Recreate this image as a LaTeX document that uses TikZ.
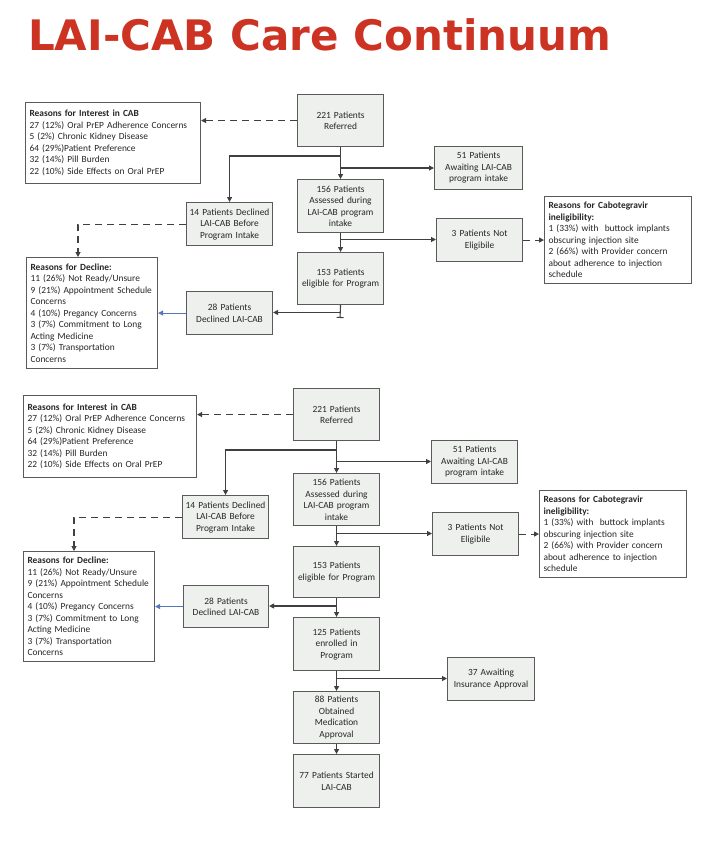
\documentclass[tikz,border=0pt]{standalone}
\usepackage{fontspec}
\setmainfont{Carlito}
\newfontfamily\titlefont{DejaVu Sans}
\usetikzlibrary{arrows.meta}
\definecolor{titlered}{HTML}{CC3322}
\definecolor{boxgray}{HTML}{EEF0EE}
\definecolor{bordergray}{HTML}{5A5A5A}
\definecolor{txtgray}{HTML}{262626}
\definecolor{linegray}{HTML}{404040}
\definecolor{bluearr}{HTML}{5577BB}
\tikzset{
  gbox/.style={draw=bordergray, fill=boxgray, line width=1.1pt, anchor=north west, align=center,
    font=\fontsize{9.4}{11.5}\selectfont, text=txtgray, inner sep=2pt},
  wbox/.style={draw=bordergray, fill=white, line width=1.1pt, anchor=north west, align=left,
    font=\fontsize{9.4}{11.5}\selectfont, text=txtgray, inner xsep=4pt, inner ysep=2pt},
  conn/.style={draw=linegray, line width=1.1pt},
  arr/.style={conn, -{Triangle[length=5pt,width=5pt]}},
  dasharr/.style={conn, dash pattern=on 7pt off 5pt, -{Triangle[length=5pt,width=5pt]}},
  bluearrow/.style={draw=bluearr, line width=1.1pt, -{Triangle[length=5pt,width=5pt]}},
  teeline/.style={conn, -{Bar[width=7pt]}},
}
\begin{document}
\begin{tikzpicture}[x=1pt,y=-1pt]
\useasboundingbox (0,0) rectangle (703,844);
\fill[white] (0,0) rectangle (703,844);
\node[anchor=base west, inner sep=0, text=titlered, font=\titlefont\bfseries\fontsize{42}{42}\selectfont] (title) at (28,50) {LAI-CAB Care Continuum};

% ---------------- top diagram ----------------
\node[wbox, minimum width=175pt, minimum height=81pt, text width=167pt] (int1) at (25,102)
 {\textbf{Reasons for Interest in CAB}\\27 (12\%) Oral PrEP Adherence Concerns\\5 (2\%) Chronic Kidney Disease\\64 (29\%)Patient Preference\\32 (14\%) Pill Burden\\22 (10\%) Side Effects on Oral PrEP};
\node[gbox, minimum width=86pt, minimum height=52pt, text width=82pt] (ref1) at (297,94) {221 Patients\\Referred};
\node[gbox, minimum width=88pt, minimum height=43pt, text width=84pt] (aw1) at (434,146) {51 Patients\\Awaiting LAI-CAB\\program intake};
\node[gbox, minimum width=86pt, minimum height=53pt, text width=82pt] (ass1) at (297,179) {156 Patients\\Assessed during\\LAI-CAB program\\intake};
\node[gbox, minimum width=86pt, minimum height=43pt, text width=82pt] (dec1) at (186,202) {14 Patients Declined\\LAI-CAB Before\\Program Intake};
\node[gbox, minimum width=86pt, minimum height=43pt, text width=82pt] (ne1) at (436,218) {3 Patients Not\\Eligibile};
\node[wbox, minimum width=147pt, minimum height=87pt, text width=139pt] (cabo1) at (544,196)
 {\textbf{Reasons for Cabotegravir}\\\textbf{ineligibility:}\\1 (33\%) with\ \ buttock implants\\obscuring injection site\\2 (66\%) with Provider concern\\about adherence to injection\\schedule};
\node[gbox, minimum width=86pt, minimum height=52pt, text width=82pt] (el1) at (297,252) {153 Patients\\eligible for Program};
\node[gbox, minimum width=86pt, minimum height=43pt, text width=82pt] (d28a) at (186,291) {28 Patients\\Declined LAI-CAB};
\node[wbox, minimum width=131pt, minimum height=111pt, text width=123pt] (rd1) at (26,257)
 {\textbf{Reasons for Decline:}\\11 (26\%) Not Ready/Unsure\\9 (21\%) Appointment Schedule\\Concerns\\4 (10\%) Pregancy Concerns\\3 (7\%) Commitment to Long\\Acting Medicine\\3 (7\%) Transportation\\Concerns};

\draw[dasharr] (ref1.west) -- (ref1.west -| int1.east);
\draw[arr] (ref1.south) -- (ass1.north);
\coordinate (t1) at (340,156);
\draw[arr] (t1) -| (dec1.north);
\coordinate (t2) at (340,168);
\draw[arr] (t2) -- (t2 -| aw1.west);
\draw[arr] (ass1.south) -- (el1.north);
\coordinate (t3) at (340,239.5);
\draw[arr] (t3) -- (t3 -| ne1.west);
\draw[dasharr] (ne1.east) -- (ne1.east -| cabo1.west);
\coordinate (t4) at (78,257);
\draw[dasharr] (dec1.west) -| (t4);
\coordinate (t5) at (340,318);
\draw[teeline] (el1.south) -- (t5);
\coordinate (t6) at (340,312.5);
\draw[arr] (t6) -- (t6 -| d28a.east);
\draw[bluearrow] (d28a.west) -- (d28a.west -| rd1.east);

% ---------------- bottom diagram ----------------
\node[wbox, minimum width=173pt, minimum height=82pt, text width=165pt] (int2) at (23,395)
 {\textbf{Reasons for Interest in CAB}\\27 (12\%) Oral PrEP Adherence Concerns\\5 (2\%) Chronic Kidney Disease\\64 (29\%)Patient Preference\\32 (14\%) Pill Burden\\22 (10\%) Side Effects on Oral PrEP};
\node[gbox, minimum width=86pt, minimum height=52pt, text width=82pt] (ref2) at (293,388) {221 Patients\\Referred};
\node[gbox, minimum width=86pt, minimum height=43pt, text width=82pt] (aw2) at (431,440) {51 Patients\\Awaiting LAI-CAB\\program intake};
\node[gbox, minimum width=86pt, minimum height=52pt, text width=82pt] (ass2) at (293,473) {156 Patients\\Assessed during\\LAI-CAB program\\intake};
\node[gbox, minimum width=86pt, minimum height=43pt, text width=82pt] (dec2) at (182,495) {14 Patients Declined\\LAI-CAB Before\\Program Intake};
\node[gbox, minimum width=86pt, minimum height=43pt, text width=82pt] (ne2) at (432,512) {3 Patients Not\\Eligibile};
\node[wbox, minimum width=147pt, minimum height=87pt, text width=139pt] (cabo2) at (539,490)
 {\textbf{Reasons for Cabotegravir}\\\textbf{ineligibility:}\\1 (33\%) with\ \ buttock implants\\obscuring injection site\\2 (66\%) with Provider concern\\about adherence to injection\\schedule};
\node[gbox, minimum width=86pt, minimum height=51pt, text width=82pt] (el2) at (293,546) {153 Patients\\eligible for Program};
\node[gbox, minimum width=85pt, minimum height=42pt, text width=81pt] (d28b) at (183,585) {28 Patients\\Declined LAI-CAB};
\node[wbox, minimum width=131pt, minimum height=110pt, text width=123pt] (rd2) at (23,551)
 {\textbf{Reasons for Decline:}\\11 (26\%) Not Ready/Unsure\\9 (21\%) Appointment Schedule\\Concerns\\4 (10\%) Pregancy Concerns\\3 (7\%) Commitment to Long\\Acting Medicine\\3 (7\%) Transportation\\Concerns};
\node[gbox, minimum width=86pt, minimum height=53pt, text width=82pt] (enr) at (293,617) {125 Patients\\enrolled in\\Program};
\node[gbox, minimum width=87pt, minimum height=43pt, text width=83pt] (ins) at (447,657) {37 Awaiting\\Insurance Approval};
\node[gbox, minimum width=86pt, minimum height=52pt, text width=82pt] (med) at (293,691) {88 Patients\\Obtained\\Medication\\Approval};
\node[gbox, minimum width=86pt, minimum height=53pt, text width=82pt] (st) at (293,754) {77 Patients Started\\LAI-CAB};

\draw[dasharr] (ref2.west) -- (ref2.west -| int2.east);
\draw[arr] (ref2.south) -- (ass2.north);
\coordinate (u1) at (336,450);
\draw[arr] (u1) -| (dec2.north);
\coordinate (u2) at (336,461.5);
\draw[arr] (u2) -- (u2 -| aw2.west);
\draw[arr] (ass2.south) -- (el2.north);
\coordinate (u3) at (336,533.5);
\draw[arr] (u3) -- (u3 -| ne2.west);
\draw[dasharr] (ne2.east) -- (ne2.east -| cabo2.west);
\coordinate (u4) at (74,551);
\draw[dasharr] (dec2.west) -| (u4);
\draw[arr] (el2.south) -- (enr.north);
\coordinate (u5) at (336,606);
\draw[arr] (u5) -- (u5 -| d28b.east);
\draw[bluearrow] (d28b.west) -- (d28b.west -| rd2.east);
\draw[arr] (enr.south) -- (med.north);
\coordinate (u6) at (336,678.5);
\draw[arr] (u6) -- (u6 -| ins.west);
\draw[arr] (med.south) -- (st.north);
\end{tikzpicture}
\end{document}
